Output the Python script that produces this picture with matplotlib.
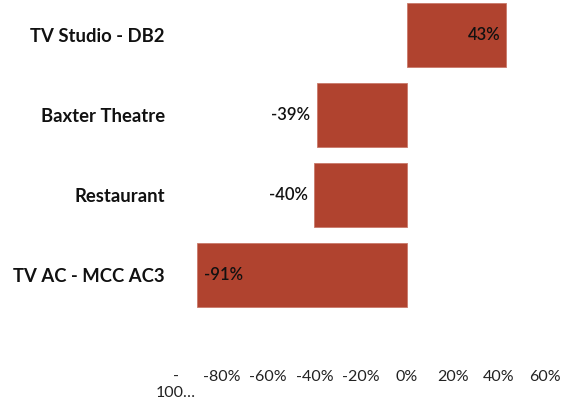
import matplotlib
matplotlib.use("Agg")
from matplotlib import pyplot as plt

categories = ['TV Studio - DB2', 'Baxter Theatre', 'Restaurant', 'TV AC - MCC AC3']
values = [43, -39, -40, -91]
tick_vals = [-100, -80, -60, -40, -20, 0, 20, 40, 60]
tick_labels = ['-\n100…', '-80%', '-60%', '-40%', '-20%', '0%', '20%', '40%', '60%']

plt.rcParams['font.family'] = ['Lato', 'DejaVu Sans']
bar_color = '#b0432f'

fig = plt.figure(figsize=(5.71, 4.07), dpi=100)
W, H = 571, 407
ax = fig.add_axes([176 / W, 1 - 355 / H, (545 - 176) / W, 355 / H])

ypos = list(range(len(categories)))
ax.barh(ypos, values, height=0.8, color=bar_color, edgecolor='#c9796a', linewidth=0.6)

ax.set_xlim(-100, 60)
ax.set_ylim(4.0, -0.4375)
ax.set_xticks(tick_vals)
ax.set_xticklabels(tick_labels, fontsize=11.5, color='#222222', linespacing=1.15)
ax.set_yticks(ypos)
ax.set_yticklabels(categories, fontsize=13.3, fontweight='bold', color='#111111')
ax.tick_params(axis='both', length=0)
ax.tick_params(axis='y', pad=8)
ax.tick_params(axis='x', pad=11)
for s in ax.spines.values():
    s.set_visible(False)

for y, v in zip(ypos, values):
    txt = f'{v}%'
    inside = v > 0 or v < -50
    if v > 0:
        ax.text(v - 2.5, y, txt, ha='right', va='center', fontsize=12, fontweight='semibold', color='#111111')
    elif inside:
        ax.text(v + 3, y, txt, ha='left', va='center', fontsize=12, fontweight='semibold', color='#111111')
    else:
        ax.text(v - 3, y, txt, ha='right', va='center', fontsize=12, fontweight='semibold', color='#111111')

fig.savefig('out.png', dpi=100)
